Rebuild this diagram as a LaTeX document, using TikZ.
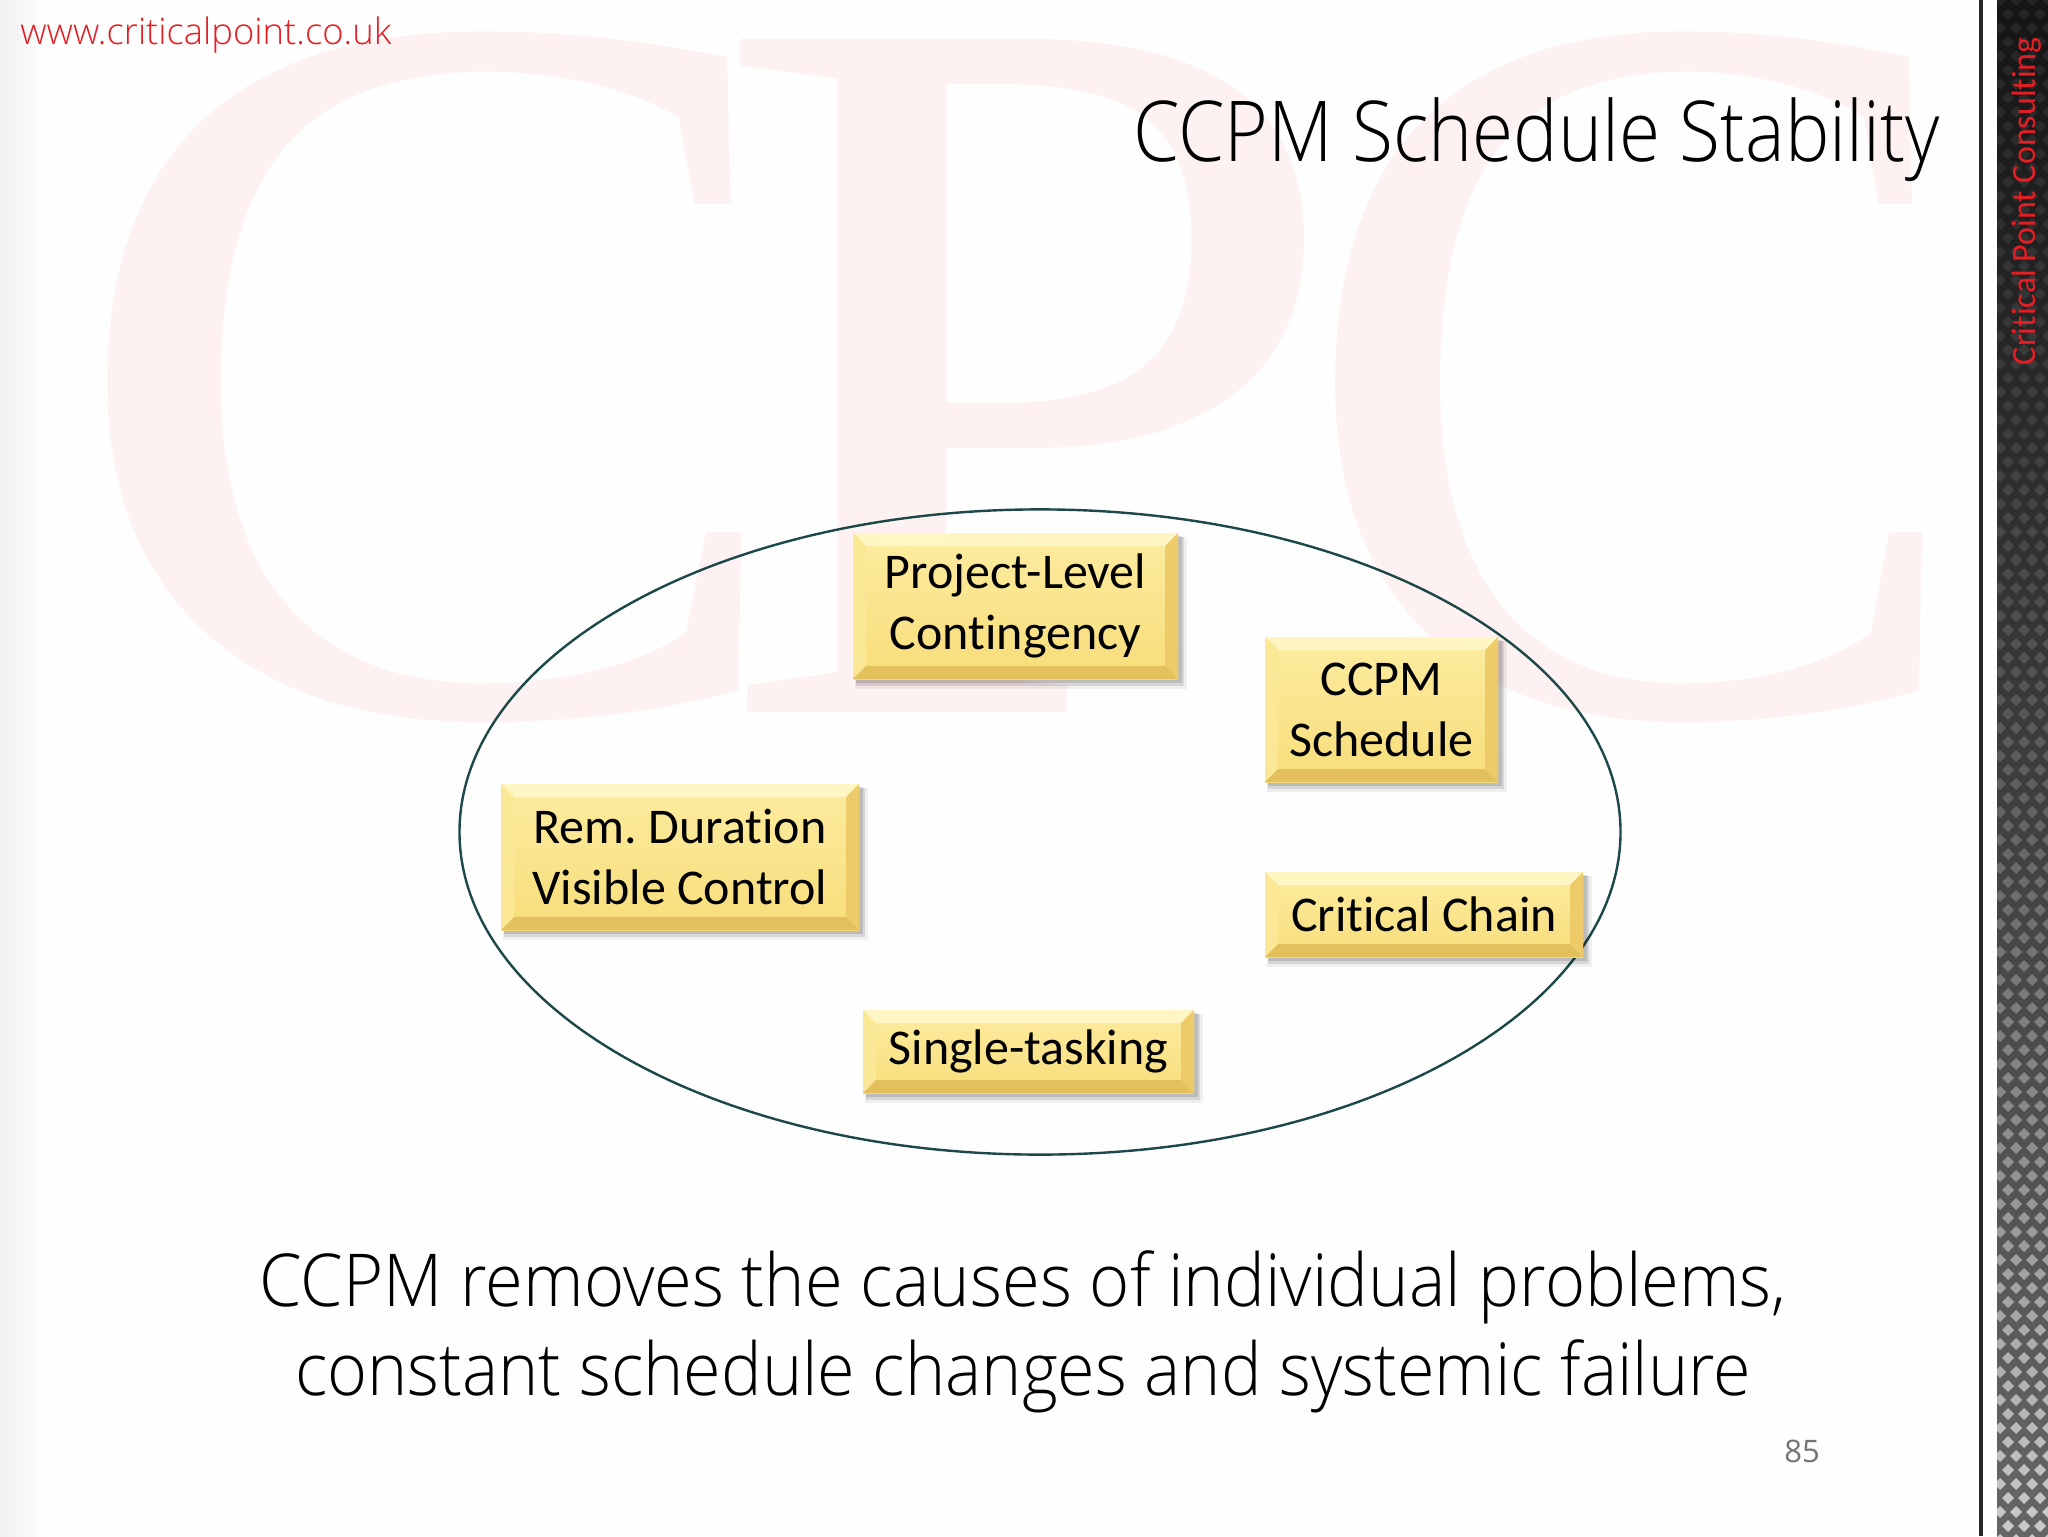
\documentclass[tikz,border=0pt]{standalone}
\usepackage{fontspec}
\setmainfont{Carlito}[Ligatures={NoCommon}]
\newfontfamily\lightfont{Open Sans Light}
\newfontfamily\regfont{Open Sans}
\newfontfamily\wmfont{Liberation Serif}
\definecolor{urlred}{RGB}{228,30,36}
\definecolor{wmpink}{RGB}{254,241,241}
\definecolor{ellcol}{RGB}{28,72,72}
\definecolor{facetop}{RGB}{253,236,160}
\definecolor{facebot}{RGB}{247,221,122}
\definecolor{bevtop}{RGB}{255,246,196}
\definecolor{bevleft}{RGB}{251,232,150}
\definecolor{bevright}{RGB}{236,203,104}
\definecolor{bevbot}{RGB}{226,192,92}
\tikzset{
  boxtext/.style={inner sep=0pt, align=center, font=\frenchspacing\fontsize{25}{30.5}\selectfont, text=black},
  ellipsestyle/.style={draw=ellcol, line width=1.2pt},
  wmletter/.style={anchor=base west, inner sep=0pt, text=wmpink, font=\wmfont\fontsize{514}{514}\selectfont},
}
\newcommand\bevbox[6]{%
  \begin{scope}[shift={(#2,#3)}]
    \pgfmathsetmacro\hw{#4/2}
    \pgfmathsetmacro\hh{#5/2}
    \def\bv{13}
    \fill[black,opacity=0.06] (-\hw+2,-\hh+4) rectangle (\hw+9,\hh+10);
    \fill[black,opacity=0.10] (-\hw+3,-\hh+4) rectangle (\hw+6,\hh+7);
    \fill[black,opacity=0.12] (-\hw+3,-\hh+3) rectangle (\hw+4,\hh+4);
    \shade[top color=facetop, bottom color=facebot] (-\hw,-\hh) rectangle (\hw,\hh);
    \fill[bevtop] (-\hw,-\hh) -- (\hw,-\hh) -- (\hw-\bv,-\hh+\bv) -- (-\hw+\bv,-\hh+\bv) -- cycle;
    \fill[bevleft] (-\hw,-\hh) -- (-\hw+\bv,-\hh+\bv) -- (-\hw+\bv,\hh-\bv) -- (-\hw,\hh) -- cycle;
    \fill[bevright] (\hw,-\hh) -- (\hw,\hh) -- (\hw-\bv,\hh-\bv) -- (\hw-\bv,-\hh+\bv) -- cycle;
    \fill[bevbot] (-\hw,\hh) -- (\hw,\hh) -- (\hw-\bv,\hh-\bv) -- (-\hw+\bv,\hh-\bv) -- cycle;
    \node[boxtext] (#1) at (0,0) {#6};
  \end{scope}}
\begin{document}
\begin{tikzpicture}[x=0.5pt,y=-0.5pt]
\useasboundingbox (0,0) rectangle (2048,1536);
% background
\fill[white!99!gray] (0,0) rectangle (2048,1536);
\shade[left color=black!6, right color=white] (0,0) rectangle (50,1536);
% watermark
\node[wmletter] (wmc1) at (62,712) {\scalebox{1.08}[1]{C}};
\node[wmletter] (wmp) at (707,712) {\scalebox{1.125}[1]{P}};
\node[wmletter] (wmc2) at (1293,712) {\scalebox{1.0}[1]{C}};
% right strip
\fill[black!85] (1979,0) rectangle (1983,1536);
\shade[top color=black!92, bottom color=black!60] (1997,0) rectangle (2048,1536);
\begin{scope}
  \clip (1997,0) rectangle (2048,1536);
  \foreach \r in {0,...,110} {
    \pgfmathsetmacro\yy{\r*14}
    \pgfmathsetmacro\op{0.07+0.6*(\r/110)^2.5}
    \pgfmathsetmacro\off{mod(\r,2)*8}
    \foreach \c in {0,...,4} {
      \fill[white, opacity=\op] ({1994+\off+\c*16},\yy) -- ++(6,-6) -- ++(6,6) -- ++(-6,6) -- cycle;
    }
  }
\end{scope}
\node[rotate=90, inner sep=0pt, text=urlred, font=\fontsize{17}{18}\selectfont] (side) at (2027,201) {Critical Point Consulting};
% url
\node[anchor=base west, inner sep=0pt, text=urlred, font=\lightfont\fontsize{18.2}{20}\selectfont] (url) at (20,45) {www.criticalpoint.co.uk};
% title
\node[anchor=base east, inner sep=0pt, font=\lightfont\fontsize{42}{50}\selectfont] (title) at (1940,161) {\scalebox{0.89}[1]{CCPM Schedule Stability}};
% ellipse
\draw[ellipsestyle] (1040,832) ellipse [x radius=580.5, y radius=322.6];
% boxes
\bevbox{plc}{1015.5}{606}{325}{146}{Project-Level\\Contingency}
\bevbox{sched}{1381.5}{709.5}{233}{145}{CCPM\\Schedule}
\bevbox{rem}{680}{857}{358}{146}{Rem. Duration\\Visible Control}
\bevbox{chain}{1424}{914.5}{318}{85}{Critical Chain}
\bevbox{single}{1028.5}{1051.5}{331}{83}{Single-tasking}
% bottom text
\node[anchor=base, inner sep=0pt, font=\lightfont\fontsize{36.5}{44}\selectfont] (l1) at (1023,1306) {\scalebox{0.94}[1]{CCPM removes the causes of individual problems,}};
\node[anchor=base, inner sep=0pt, font=\lightfont\fontsize{36.5}{44}\selectfont] (l2) at (1023,1395) {\scalebox{0.935}[1]{constant schedule changes and systemic failure}};
% page number
\node[anchor=base west, inner sep=0pt, text=black!55, font=\regfont\fontsize{15.5}{18}\selectfont] (pg) at (1784,1462) {85};
\end{tikzpicture}
\end{document}
